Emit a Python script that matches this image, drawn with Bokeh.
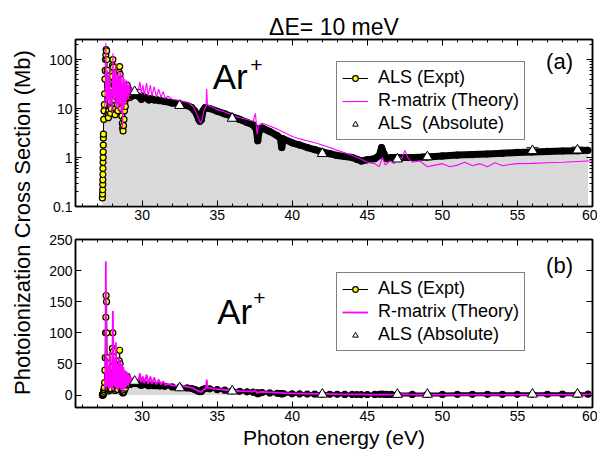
import numpy as np
from math import pi
from bokeh.plotting import figure
from bokeh.layouts import row, column
from bokeh.models import (Range1d, FixedTicker, LinearAxis, LogAxis, Legend, LegendItem,
                          Label, Whisker, ColumnDataSource, TeeHead, CustomJSTickFormatter)
from bokeh.core.properties import value
from bokeh.embed import file_html
from bokeh.resources import INLINE

# ---------------- data ----------------
expt_e = [27.35, 27.36, 27.37, 27.375, 27.38, 27.385, 27.39, 27.395, 27.40, 27.405, 27.41, 27.415, 27.42,
          27.44, 27.46, 27.48, 27.50, 27.52, 27.54, 27.56, 27.58, 27.60, 27.63, 27.65, 27.67, 27.69, 27.71,
          27.73, 27.75, 27.78, 27.81, 27.84, 27.87, 27.90, 27.93, 27.96, 27.99, 28.02, 28.05, 28.08, 28.11,
          28.14, 28.17, 28.20, 28.23, 28.26, 28.29, 28.32, 28.35, 28.38, 28.41, 28.44, 28.47, 28.50, 28.53,
          28.56, 28.59, 28.62, 28.65, 28.68, 28.70, 28.73, 28.76, 28.79, 28.82, 28.85, 28.88, 28.91, 28.95,
          29.00, 29.05, 29.10, 29.20, 29.30, 29.45, 29.60, 29.75, 29.85, 29.95, 30.05, 30.2, 30.35, 30.45,
          30.6, 30.8, 31.0, 31.2, 31.5, 32.0, 32.5, 33.0, 33.3, 33.5, 33.65, 33.75, 33.85, 33.95, 34.05,
          34.2, 34.5, 35.0, 35.5, 36.0, 36.5, 37.0, 37.4, 37.6, 37.7, 37.8, 38.0, 38.5, 39.0, 39.2, 39.3,
          39.4, 40.0, 40.5, 41.0, 41.5, 42.0, 42.5, 43.0, 43.5, 44.0, 44.3, 44.6, 45.0, 45.5, 45.8, 45.95,
          46.1, 46.3, 46.6, 47.0, 48.0, 49.0, 50.0, 51.0, 52.0, 53.0, 54.0, 55.0, 56.0, 57.0, 58.0, 59.0, 59.7]
expt_s = [0.15, 0.18, 0.22, 0.28, 0.35, 0.45, 0.6, 0.8, 1.0, 1.3, 1.8, 2.5, 3.0,
          6, 9, 12, 20, 40, 60, 100, 125, 160, 150, 100, 60, 30, 15,
          8, 6.5, 9, 18, 25, 14, 8, 10, 20, 45, 75, 100, 70, 35,
          15, 9, 7.5, 10, 18, 30, 22, 12, 9, 15, 30, 55, 72, 50,
          25, 14, 10, 7, 5, 4, 3.5, 4.5, 6, 9, 14, 11, 16, 25,
          30, 22, 17, 17, 18, 19, 18.5, 18, 17, 15.5, 18, 17, 16, 15,
          16, 15, 15, 14.5, 14, 13, 12.5, 11.5, 10.5, 9, 7.5, 6.2, 5.5, 6, 9,
          10.5, 10, 8.8, 7.8, 6.8, 6.0, 5.2, 4.6, 3.8, 2.2, 3.5, 4.0, 3.4, 2.8, 2.5, 1.6,
          2.4, 2.0, 1.8, 1.6, 1.45, 1.3, 1.2, 1.1, 1.05, 1.0, 0.92, 0.85, 0.9, 0.95, 1.1, 1.6,
          1.2, 0.95, 1.0, 1.0, 1.0, 1.03, 1.08, 1.12, 1.15, 1.18, 1.22, 1.27, 1.3, 1.33, 1.36, 1.38, 1.4]

theo_e = [27.50, 27.55, 27.58, 27.61, 27.64, 27.68, 27.72, 27.76, 27.80, 27.85, 27.90, 27.95, 28.00,
          28.05, 28.10, 28.15, 28.20, 28.25, 28.30, 28.35, 28.40, 28.45, 28.50, 28.55, 28.60, 28.65,
          28.70, 28.75, 28.80, 28.85, 28.90, 28.95, 29.00, 29.05, 29.10, 29.15, 29.20, 29.30, 29.40,
          29.50, 29.60, 29.75, 29.85, 29.95, 30.05, 30.15, 30.30, 30.40, 30.55, 30.65, 30.80, 30.95,
          31.10, 31.25, 31.40, 31.55, 31.70, 32.0, 32.5, 33.0, 33.4, 33.7, 33.9, 34.0, 34.1, 34.25,
          34.3, 34.35, 34.6, 35.0, 35.5, 36.0, 36.5, 37.0, 37.4, 37.55, 37.65, 37.75, 38.0, 38.5,
          39.0, 39.5, 40.0, 40.5, 41.0, 41.5, 42.0, 42.5, 43.0, 43.5, 44.0, 44.5, 45.0, 45.5, 45.8,
          46.0, 46.2, 46.5, 46.8, 47.0, 47.3, 47.5, 47.7, 48.0, 48.5, 49.0, 49.5, 50.0, 50.5, 51.0,
          51.5, 52.0, 52.5, 53.0, 53.5, 54.0, 54.5, 55.0, 56.0, 57.0, 58.0, 59.0, 60.0]
theo_s = [10, 30, 215, 40, 12, 60, 15, 40, 10, 70, 12, 25, 8,
          135, 15, 60, 12, 85, 10, 50, 9, 60, 12, 55, 8, 50,
          4, 45, 10, 40, 12, 38, 15, 35, 16, 32, 18, 28, 20,
          25, 20, 24, 35, 20, 30, 19, 33, 18, 30, 18, 28, 17,
          25, 17, 22, 16, 18, 15.5, 14.5, 13.5, 11, 7, 5, 6, 9, 11,
          25, 12, 11, 9.5, 8.5, 7.3, 6.5, 6.0, 5.5, 8, 3.0, 4.5, 5.0, 4.4,
          3.8, 3.2, 2.7, 2.4, 2.2, 2.0, 1.8, 1.6, 1.4, 1.25, 1.1, 0.95, 0.8, 0.75, 0.65,
          1.0, 0.7, 0.85, 0.75, 1.1, 0.95, 1.4, 1.0, 0.8, 0.85, 0.65, 0.7, 0.75, 0.65, 0.7,
          0.8, 0.68, 0.75, 0.65, 0.78, 0.68, 0.72, 0.75, 0.76, 0.78, 0.8, 0.83, 0.86]

abs_e = [29.5, 32.5, 36.0, 42.0, 47.0, 49.0, 56.0, 59.0]
abs_s = [22.0, 11.5, 6.3, 1.2, 0.93, 1.03, 1.38, 1.42]
abs_rel_err = [0.12, 0.15, 0.15, 0.15, 0.15, 0.15, 0.15, 0.15]

x_major = [30, 35, 40, 45, 50, 55, 60]
x_minor = list(range(26, 61))
ylog_major = [0.1, 1, 10, 100]
ylog_minor = [0.2, 0.3, 0.4, 0.5, 0.6, 0.7, 0.8, 0.9, 2, 3, 4, 5, 6, 7, 8, 9,
              20, 30, 40, 50, 60, 70, 80, 90, 200]
ylin_major = [0, 50, 100, 150, 200, 250]

# ---------------- styling ----------------
FONT = "Liberation Sans"
GRAY = "#d9d9d9"
MAG = "#ff00ff"
LW = 42
W = 555
H1 = 227
H2 = 224

ee = np.array(expt_e)
es = np.array(expt_s)
band = ee >= 29.0
fills = np.where(ee < 29.3, "yellow", "black")
ae = np.array(abs_e)
as_ = np.array(abs_s)
ar = np.array(abs_rel_err)


def style_axis(ax, labels=True, minor=True):
    ax.major_tick_in = 6
    ax.major_tick_out = 0
    ax.minor_tick_in = 3 if minor else 0
    ax.minor_tick_out = 0
    ax.axis_line_color = "black"
    ax.axis_line_width = 1.5
    ax.major_tick_line_color = "black"
    ax.minor_tick_line_color = "black"
    ax.major_label_text_font = FONT
    ax.major_label_text_font_size = "14px"
    ax.major_label_text_color = "black"
    ax.major_label_standoff = 3
    if not labels:
        ax.major_label_text_font_size = "1px"
        ax.major_label_text_alpha = 0
        ax.major_label_standoff = 0


def make_panel(log, height, b_top, b_bottom, band_w, theo_w):
    common = dict(width=W, height=height, x_range=Range1d(25.56, 60), output_backend="svg",
                  toolbar_location=None, min_border_left=33, min_border_right=5,
                  min_border_top=b_top, min_border_bottom=b_bottom)
    if log:
        p = figure(y_range=Range1d(0.1, 257), y_axis_type="log", **common)
        lo = 1e-3
    else:
        p = figure(y_range=Range1d(-20, 250), **common)
        lo = 0
    p.grid.visible = False
    p.outline_line_color = "black"
    p.outline_line_width = 1.5
    p.background_fill_color = "white"

    p.xaxis.ticker = FixedTicker(ticks=x_major, minor_ticks=x_minor)
    if log:
        p.yaxis.ticker = FixedTicker(ticks=ylog_major, minor_ticks=ylog_minor)
        p.yaxis.formatter = CustomJSTickFormatter(code="return String(tick)")
    else:
        p.yaxis.ticker = FixedTicker(ticks=ylin_major)
    for ax in p.xaxis:
        style_axis(ax)
    for ax in p.yaxis:
        style_axis(ax, minor=log)

    top_ax = LinearAxis(ticker=FixedTicker(ticks=x_major, minor_ticks=x_minor))
    style_axis(top_ax, labels=False)
    p.add_layout(top_ax, "above")
    if log:
        r_ax = LogAxis(ticker=FixedTicker(ticks=ylog_major, minor_ticks=ylog_minor))
        style_axis(r_ax, labels=False)
    else:
        r_ax = LinearAxis(ticker=FixedTicker(ticks=ylin_major))
        style_axis(r_ax, labels=False, minor=False)
    p.add_layout(r_ax, "right")

    # filled area under experiment
    p.varea(x=expt_e, y1=lo, y2=expt_s, fill_color=GRAY)
    # experiment
    r_el = p.line(expt_e, expt_s, line_color="black", line_width=1)
    p.line(ee[band], es[band], line_color="black", line_width=band_w, line_join="round")
    r_es = p.scatter(expt_e, expt_s, marker="circle", size=6, fill_color=list(fills),
                     line_color="black", line_width=1.2)
    # theory
    r_th = p.line(theo_e, theo_s, line_color=MAG, line_width=theo_w)
    # absolute points
    src = ColumnDataSource(dict(x=ae, y=as_, lower=as_ * (1 - ar), upper=as_ * (1 + ar)))
    w = Whisker(base="x", lower="lower", upper="upper", source=src, line_color="black", line_width=1,
                upper_head=TeeHead(size=12, line_color="black", line_width=1),
                lower_head=TeeHead(size=12, line_color="black", line_width=1))
    p.add_layout(w)
    r_ab = p.scatter("x", "y", source=src, marker="triangle", size=10, fill_color="white",
                     line_color="black", line_width=1)
    return p, r_el, r_es, r_th, r_ab


def add_legend(p, rens, abs_label, loc):
    r_el, r_es, r_th, r_ab = rens
    lg = Legend(items=[LegendItem(label="ALS (Expt)", renderers=[r_el, r_es], index=0),
                       LegendItem(label="R-matrix (Theory)", renderers=[r_th]),
                       LegendItem(label=abs_label, renderers=[r_ab], index=0)],
                location=loc)
    lg.label_text_font = FONT
    lg.label_text_font_size = "18px"
    lg.label_text_color = "black"
    lg.glyph_width = 26
    lg.glyph_height = 14
    lg.label_height = 20
    lg.label_standoff = 10
    lg.spacing = 2
    lg.padding = 5
    lg.margin = 0
    lg.border_line_color = "black"
    lg.border_line_width = 1.2
    lg.background_fill_color = "white"
    lg.background_fill_alpha = 1.0
    p.add_layout(lg)


# ---------------- top panel (log) ----------------
p1, *r1 = make_panel(True, H1, 39, 21, 7, 1.1)
p1.title.text = "\u0394E= 10 meV"
p1.title.align = "center"
p1.title.text_font = FONT
p1.title.text_font_size = "23px"
p1.title.text_font_style = "normal"
p1.title.text_color = "black"
p1.title.standoff = 0

p1.add_layout(Label(x=34.7, y=18, text="Ar", text_font=FONT, text_font_size="35px",
                    text_color="black"))
p1.add_layout(Label(x=37.2, y=56, text="+", text_font=FONT, text_font_size="21px",
                    text_color="black"))
p1.add_layout(Label(x=58.7, y=91, text="(a)", text_font=FONT, text_font_size="22px",
                    text_align="right", text_baseline="middle", text_color="black"))
add_legend(p1, r1, "ALS  (Absolute)", (261, 66))

# ---------------- bottom panel (linear) ----------------
p2, *r2 = make_panel(False, H2, 12, 40, 4, 1.8)
xb = p2.below[0]
xb.axis_label = "Photon energy (eV)"
xb.axis_label_text_font = FONT
xb.axis_label_text_font_size = "21px"
xb.axis_label_text_font_style = "normal"
xb.axis_label_text_color = "black"
xb.axis_label_standoff = 2

p2.add_layout(Label(x=35.0, y=103, text="Ar", text_font=FONT, text_font_size="35px",
                    text_color="black"))
p2.add_layout(Label(x=37.4, y=145, text="+", text_font=FONT, text_font_size="21px",
                    text_color="black"))
p2.add_layout(Label(x=58.7, y=209, text="(b)", text_font=FONT, text_font_size="22px",
                    text_align="right", text_baseline="middle", text_color="black"))
add_legend(p2, r2, "ALS (Absolute)", (261, 56))

# ---------------- shared y-axis title ----------------
pl = figure(width=LW, height=H1 + H2, x_range=Range1d(0, 1), y_range=Range1d(0, 1),
            output_backend="svg", toolbar_location=None,
            x_axis_location=None, y_axis_location=None, min_border=0)
pl.grid.visible = False
pl.outline_line_color = None
pl.text(x=[0.52], y=[1 - 222 / (H1 + H2)], text=["Photoionization Cross Section (Mb)"], angle=pi / 2,
        text_align="center", text_baseline="middle", text_font=value(FONT),
        text_font_size="22px", text_color="black")

layout = row(pl, column(p1, p2, spacing=0), spacing=0)
open("out.html", "w").write(file_html(layout, INLINE))
